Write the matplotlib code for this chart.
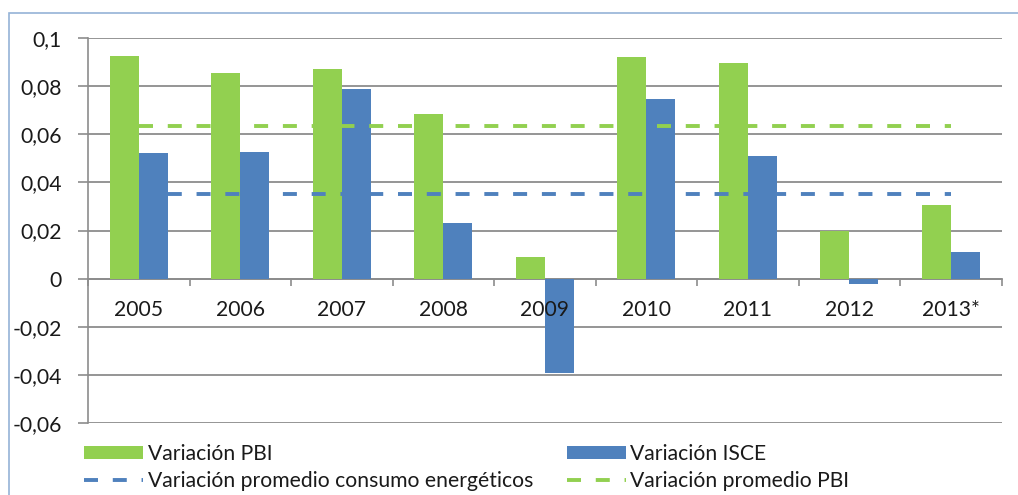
import matplotlib
matplotlib.use('Agg')
import matplotlib.pyplot as plt
from matplotlib.patches import Rectangle
import numpy as np

years = ['2005', '2006', '2007', '2008', '2009', '2010', '2011', '2012', '2013*']
var_pbi = [0.0926, 0.0855, 0.0872, 0.0683, 0.0091, 0.0920, 0.0895, 0.0198, 0.0306]
var_isce = [0.0520, 0.0524, 0.0787, 0.0231, -0.0391, 0.0746, 0.0511, -0.0022, 0.0111]
prom_consumo = 0.0351
prom_pbi = 0.0632
yticks = [-0.06, -0.04, -0.02, 0, 0.02, 0.04, 0.06, 0.08, 0.1]
ytick_labels = ['-0,06', '-0,04', '-0,02', '0', '0,02', '0,04', '0,06', '0,08', '0,1']

green = '#92D050'
blue = '#4F81BD'
grid_gray = '#8C8C8C'
text_col = '#1a1a1a'

plt.rcParams['font.family'] = ['Lato', 'DejaVu Sans']
plt.rcParams['font.size'] = 15.2

W, H = 1018, 495
fig = plt.figure(figsize=(W / 100, H / 100), dpi=100)
ax = fig.add_axes([88 / W, 1 - 423.3 / H, (1001.7 - 88) / W, (423.3 - 37.7) / H])

# outer light-blue frame
fig.patches.append(Rectangle((9 / W, -0.05), 1.1, 1 - 13 / H + 0.05,
                             transform=fig.transFigure, fill=False,
                             edgecolor='#95B3D7', lw=1.2))

x = np.arange(len(years))
bw = 0.286
ax.bar(x - bw / 2, var_pbi, bw, color=green, label='Variación PBI', zorder=3)
ax.bar(x + bw / 2, var_isce, bw, color=blue, label='Variación ISCE', zorder=3)
ax.plot([x[0], x[-1]], [prom_consumo] * 2, color=blue, lw=2.8,
        dashes=(3.6, 3.8), label='Variación promedio consumo energéticos', zorder=4)
ax.plot([x[0], x[-1]], [prom_pbi] * 2, color=green, lw=2.8,
        dashes=(3.6, 3.8), label='Variación promedio PBI', zorder=4)

ax.set_xlim(-0.5, len(years) - 0.5)
ax.set_ylim(-0.06, 0.1)
ax.set_yticks(yticks)
ax.set_yticklabels(ytick_labels, color=text_col)
ax.yaxis.grid(True, color=grid_gray, lw=1.3, zorder=0)
ax.tick_params(axis='y', length=7, color=grid_gray, width=1.2, pad=12)

for s in ['top', 'right']:
    ax.spines[s].set_visible(False)
ax.spines['left'].set_color(grid_gray)
ax.spines['left'].set_linewidth(1.2)
ax.spines['bottom'].set_position(('data', 0))
ax.spines['bottom'].set_color(grid_gray)
ax.spines['bottom'].set_linewidth(1.3)
ax.set_xticks(np.arange(-0.5, len(years)))
ax.set_xticklabels([])
ax.tick_params(axis='x', length=5, color=grid_gray, width=1.2)

# year labels drawn above the bars (2009 overlaps its bar)
for xi, yr in zip(x, years):
    ax.text(xi, -0.0128, yr, ha='center', va='center', color=text_col, zorder=6)

handles, labels = ax.get_legend_handles_labels()
order = [2, 0, 3, 1]
leg = fig.legend([handles[i] for i in order], [labels[i] for i in order],
                 ncol=2, loc='upper left', bbox_to_anchor=(80 / W, 1 - 440 / H),
                 frameon=False, handlelength=2.8, handleheight=0.55,
                 handletextpad=0.2, columnspacing=1.6, labelspacing=0.3,
                 borderaxespad=0, borderpad=0.2)
for t in leg.get_texts():
    t.set_color(text_col)

fig.savefig('out.png', dpi=100)
